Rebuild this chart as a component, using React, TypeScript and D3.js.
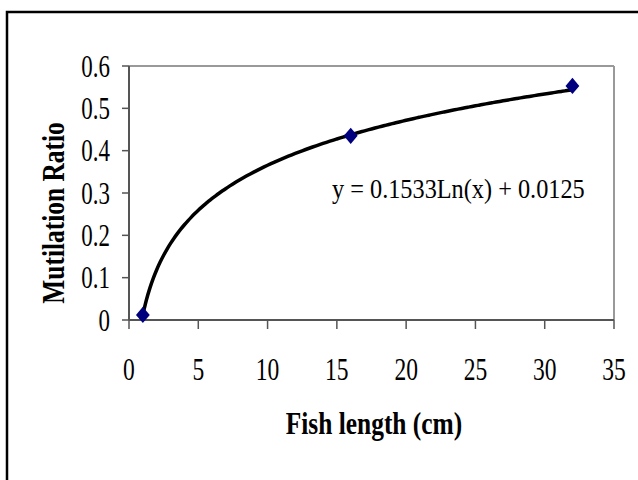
import * as d3 from 'd3';
import React from 'react';

const width = 638;
const height = 480;
const plot = { left: 129, right: 614, top: 66, bottom: 320 };

// observed points
const fishLength = [1, 16, 32];
const mutilationRatio = [0.012, 0.435, 0.553];

// log trendline shown on the chart: y = 0.1533Ln(x) + 0.0125
const trendSlope = 0.1533;
const trendIntercept = 0.0125;
const trendLabel = 'y = 0.1533Ln(x) + 0.0125';

const xTicks = [0, 5, 10, 15, 20, 25, 30, 35];
const yTicks = [0, 0.1, 0.2, 0.3, 0.4, 0.5, 0.6];

const serif = '"Liberation Serif", "Times New Roman", serif';

export default function App() {
  const x = d3.scaleLinear().domain([0, 35]).range([plot.left, plot.right]);
  const y = d3.scaleLinear().domain([0, 0.6]).range([plot.bottom, plot.top]);

  const trendX = d3.range(1, 32.001, 0.25);
  const line = d3
    .line<number>()
    .x(d => x(d))
    .y(d => y(trendSlope * Math.log(d) + trendIntercept))
    .curve(d3.curveMonotoneX);

  const diamond = d3.symbol().type(d3.symbolDiamond2).size(150)();

  return (
    <svg
      width={width}
      height={height}
      style={{ position: 'absolute', left: 0, top: 0, background: '#fff' }}
    >
      {/* outer frame, only top and left visible */}
      <rect x={7} y={12} width={800} height={700} fill="none" stroke="#000" strokeWidth={2.5} />

      {/* plot area border */}
      <line x1={plot.left} x2={plot.right} y1={plot.top} y2={plot.top} stroke="#999" strokeWidth={2} />
      <line x1={plot.right} x2={plot.right} y1={plot.top} y2={plot.bottom} stroke="#999" strokeWidth={2} />

      {/* y axis */}
      <line x1={plot.left} x2={plot.left} y1={plot.top} y2={plot.bottom} stroke="#555" strokeWidth={2} />
      {yTicks.map(t => (
        <g key={t}>
          <line x1={plot.left - 7} x2={plot.left} y1={y(t)} y2={y(t)} stroke="#555" strokeWidth={1.5} />
          <text
            transform={`translate(110, ${y(t) + 10.5}) scale(0.74, 1)`}
            textAnchor="end"
            fontFamily={serif}
            fontSize={31}
            fill="#000"
          >
            {d3.format('')(t)}
          </text>
        </g>
      ))}

      {/* x axis */}
      <line x1={plot.left} x2={plot.right} y1={plot.bottom} y2={plot.bottom} stroke="#555" strokeWidth={2} />
      {xTicks.map(t => (
        <g key={t}>
          <line x1={x(t)} x2={x(t)} y1={plot.bottom} y2={plot.bottom + 9} stroke="#555" strokeWidth={1.5} />
          <text
            transform={`translate(${x(t)}, 380) scale(0.76, 1)`}
            textAnchor="middle"
            fontFamily={serif}
            fontSize={31}
            fill="#000"
          >
            {t}
          </text>
        </g>
      ))}

      {/* trendline */}
      <path d={line(trendX) || ''} fill="none" stroke="#000" strokeWidth={3.5} strokeLinejoin="round" />

      {/* markers */}
      {fishLength.map((f, i) => (
        <path
          key={f}
          d={diamond || ''}
          transform={`translate(${x(f)}, ${y(mutilationRatio[i])}) scale(0.9, 1.05)`}
          fill="#00007f"
        />
      ))}

      {/* equation label */}
      <text
        transform="translate(332, 198) scale(0.9, 1)"
        fontFamily={serif}
        fontSize={27}
        fill="#000"
      >
        {trendLabel}
      </text>

      {/* axis titles */}
      <text
        transform="translate(374, 434) scale(0.82, 1)"
        textAnchor="middle"
        fontFamily={serif}
        fontWeight="bold"
        fontSize={31}
        fill="#000"
      >
        Fish length (cm)
      </text>
      <text
        transform="translate(64, 213) rotate(-90) scale(0.82, 1)"
        textAnchor="middle"
        fontFamily={serif}
        fontWeight="bold"
        fontSize={31}
        fill="#000"
      >
        Mutilation Ratio
      </text>
    </svg>
  );
}
